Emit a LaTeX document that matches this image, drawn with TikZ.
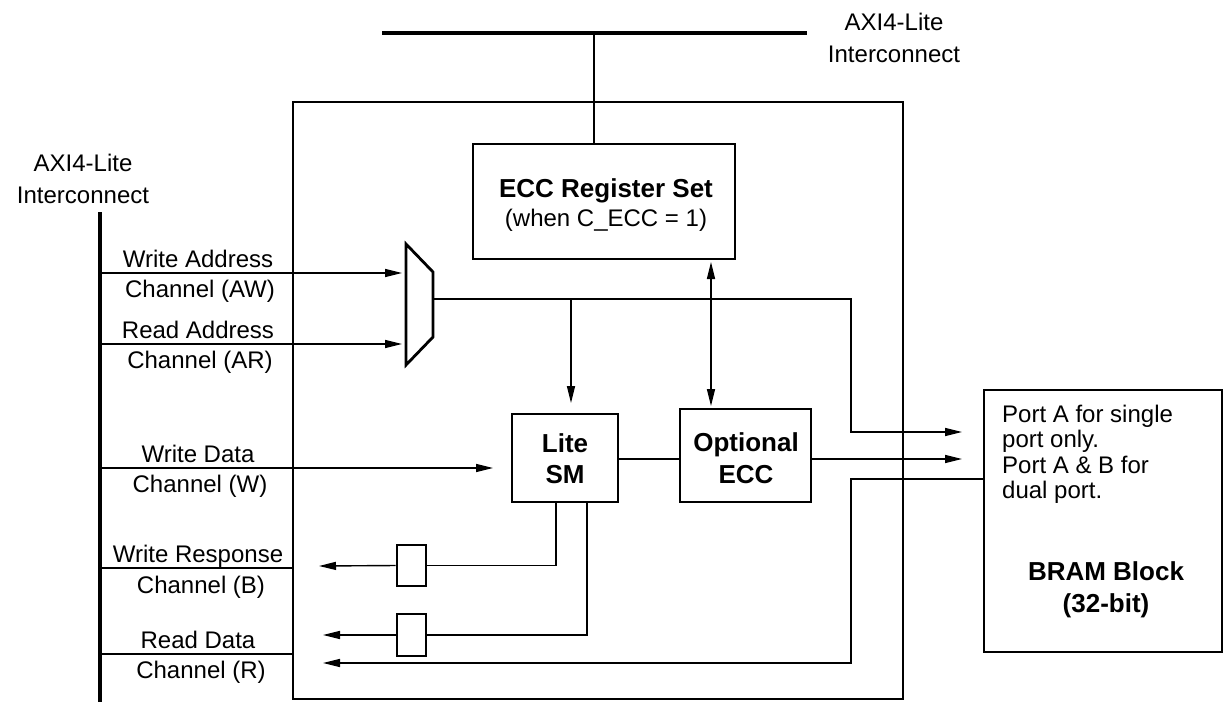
\documentclass[tikz,border=0pt]{standalone}
\usepackage{fontspec}
\setmainfont{Liberation Sans}
\usetikzlibrary{arrows.meta}
\begin{document}
\begin{tikzpicture}[x=1pt,y=1pt,
  thinline/.style={line width=1.4pt},
  box/.style={draw, line width=2.8pt, inner sep=0pt, rectangle},
  arr/.style={thinline, -{Triangle[length=17pt,width=8pt]}},
  darr/.style={thinline, {Triangle[length=17pt,width=8pt]}-{Triangle[length=17pt,width=8pt]}},
  bus/.style={line width=4.5pt},
  lbl/.style={font=\fontsize{24}{25.5}\selectfont, inner sep=0pt, anchor=base},
  blbl/.style={font=\fontsize{26}{31}\bfseries\selectfont, inner sep=0pt, anchor=base},
  plbl/.style={font=\fontsize{24}{25.5}\selectfont, inner sep=0pt, anchor=base west}
]
\useasboundingbox[fill=white] (0,0) rectangle (1225,-702);

% boxes
\node[box, minimum width=610pt, minimum height=597pt] (core) at (598,-400.5) {};
\node[box, minimum width=262pt, minimum height=115pt] (reg) at (604,-201.5) {};
\node[box, minimum width=106pt, minimum height=88pt] (lite) at (565,-458) {};
\node[box, minimum width=131pt, minimum height=93pt] (oecc) at (745.5,-455.5) {};
\node[box, minimum width=238pt, minimum height=262pt] (bram) at (1103,-521) {};
\node[box, minimum width=29pt, minimum height=41pt] (rb) at (411.5,-565.5) {};
\node[box, minimum width=29pt, minimum height=42pt] (rr) at (411.5,-635) {};

% mux
\coordinate (m1) at (406,-244);
\coordinate (m2) at (433,-272);
\coordinate (m3) at (433,-337);
\coordinate (m4) at (406,-365);
\draw[line width=2.8pt, line join=miter] (m1) -- (m2) -- (m3) -- (m4) -- cycle;
\coordinate (muxout) at (433,-299);

% buses
\coordinate (tbL) at (382,-33);
\coordinate (tbR) at (807,-33);
\coordinate (tbJ) at (594,-33);
\draw[bus] (tbL) -- (tbR);
\draw[thinline] (tbJ) -- (tbJ |- reg.north);
\coordinate (lbT) at (100,-212);
\coordinate (lbB) at (100,-702);
\draw[bus] (lbT) -- (lbB);

% bus labels
\node[lbl] (tl1) at (894,-30) {AXI4-Lite};
\node[lbl] (tl2) at (894,-62) {Interconnect};
\node[lbl] (ll1) at (83,-171) {AXI4-Lite};
\node[lbl] (ll2) at (83,-203) {Interconnect};

% channels
\coordinate (awS) at (100,-273); \coordinate (awE) at (402,-273);
\coordinate (arS) at (100,-344); \coordinate (arE) at (402,-344);
\coordinate (wS) at (100,-468);  \coordinate (wE) at (493,-468);
\coordinate (bS) at (100,-568);  \coordinate (bE) at (293,-568);
\coordinate (rS) at (100,-654);  \coordinate (rE) at (293,-654);
\draw[arr] (awS) -- (awE);
\draw[arr] (arS) -- (arE);
\draw[arr] (wS) -- (wE);
\draw[thinline] (bS) -- (bE);
\draw[thinline] (rS) -- (rE);

\node[lbl] (aw1) at (198,-267) {Write Address};
\node[lbl] (aw2) at (200,-297) {Channel (AW)};
\node[lbl] (ar1) at (198,-338) {Read Address};
\node[lbl] (ar2) at (200,-368) {Channel (AR)};
\node[lbl] (w1) at (198,-462) {Write Data};
\node[lbl] (w2) at (200,-492) {Channel (W)};
\node[lbl] (b1) at (198,-562) {Write Response};
\node[lbl] (b2) at (201,-593) {Channel (B)};
\node[lbl] (r1) at (198,-648) {Read Data};
\node[lbl] (r2) at (201,-678) {Channel (R)};

% internal connections
\coordinate (muxdown) at (851,-299);
\coordinate (p1tip) at (962,-432);
\draw[arr] (muxout) -- (muxdown) |- (p1tip);
\coordinate (brJ) at (571,-299);
\coordinate (brE) at (571,-403);
\draw[arr] (brJ) -- (brE);
\coordinate (dT) at (711,-262);
\coordinate (dB) at (711,-406);
\draw[darr] (dT) -- (dB);
\draw[thinline] (lite.east |- 0,-459) -- (oecc.west |- 0,-459);
\coordinate (p2tip) at (962,-459);
\draw[arr] (oecc.east |- 0,-459) -- (p2tip);
\coordinate (retJ) at (851,-479);
\coordinate (retE) at (323,-663);
\draw[arr] (bram.west |- 0,-479) -- (retJ) |- (retE);

\draw[thinline] (556,-502) |- (rb.east);
\coordinate (rbE) at (319,-566);
\draw[arr] (rb.west) -- (rbE);
\draw[thinline] (587,-502) |- (rr.east);
\coordinate (rrE) at (323,-635);
\draw[arr] (rr.west) -- (rrE);

% box texts
\node[blbl] (regt1) at (606,-197) {ECC Register Set};
\node[lbl] (regt2) at (606,-226) {(when C\_ECC = 1)};
\node[blbl] (lt1) at (565,-452) {Lite};
\node[blbl] (lt2) at (565,-483) {SM};
\node[blbl] (ot1) at (746,-451) {Optional};
\node[blbl] (ot2) at (746,-483) {ECC};
\node[plbl] (pt1) at (1002,-422) {Port A for single};
\node[plbl] (pt2) at (1002,-447.5) {port only.};
\node[plbl] (pt3) at (1002,-473) {Port A \& B for};
\node[plbl] (pt4) at (1002,-498.5) {dual port.};
\node[blbl] (bt1) at (1106,-580) {BRAM Block};
\node[blbl] (bt2) at (1106,-612) {(32-bit)};
\end{tikzpicture}
\end{document}
